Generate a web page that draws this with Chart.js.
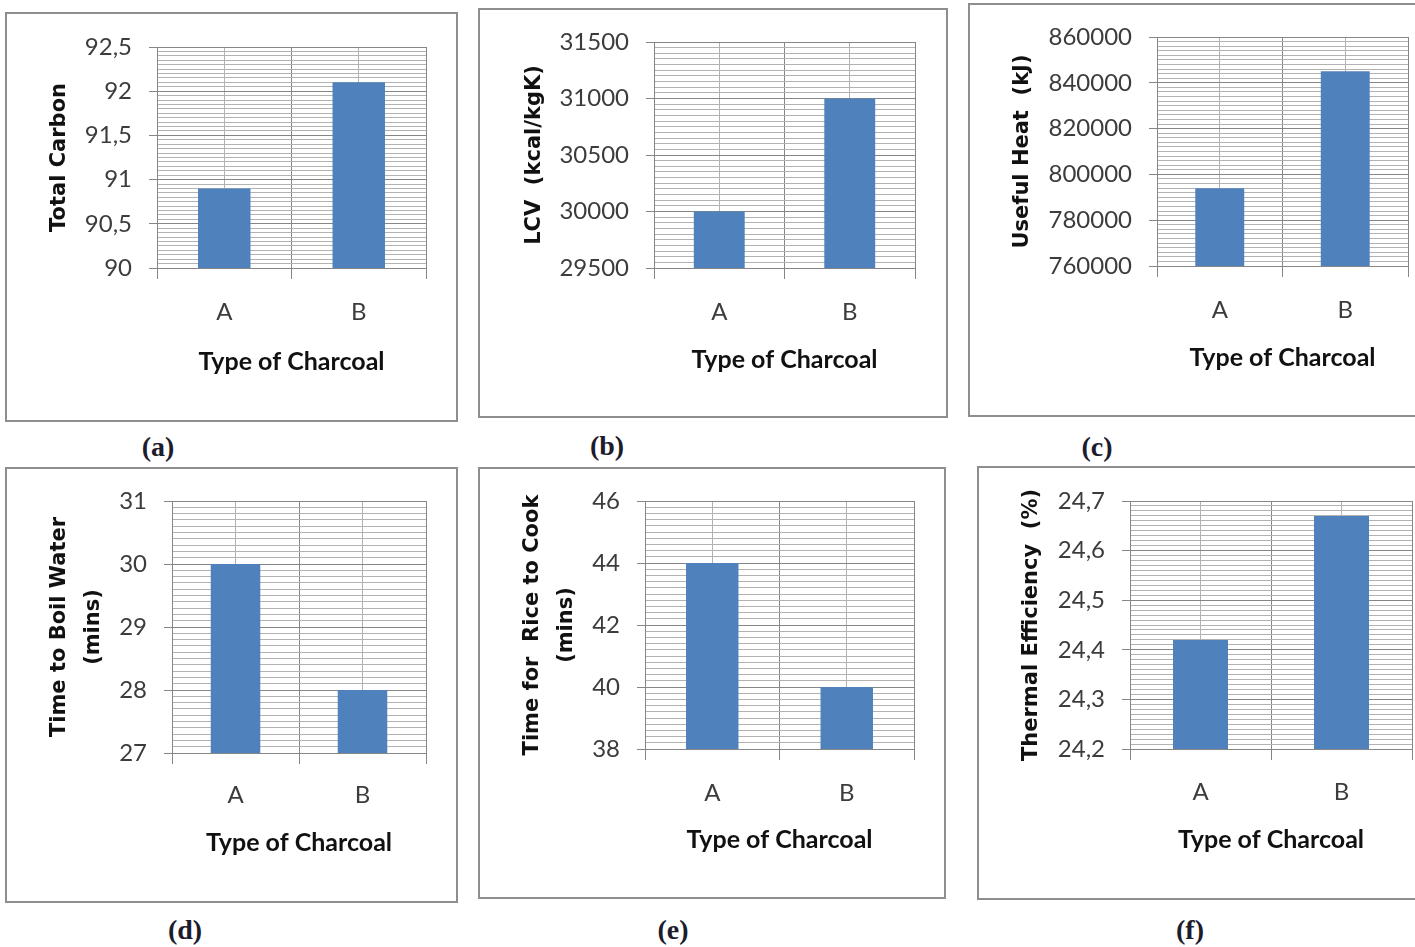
<!DOCTYPE html>
<html>
<head>
<meta charset="utf-8">
<script src="https://cdn.jsdelivr.net/npm/chart.js"></script>
<style>
  body { margin: 0; width: 1415px; height: 947px; overflow: hidden; background: #fff; position: relative; }
  .panel { position: absolute; border: 2px solid #8e8e8e; box-sizing: border-box; background: #fff; }
  .panel canvas { display: block; }
  .cap { position: absolute; transform: translate(-50%, -50%); font: bold 28px "Liberation Serif", serif; color: #1c1c2c; }
</style>
</head>
<body>
<script>
const categories = ['A', 'B'];
const totalCarbon = [90.9, 92.1];
const lcv = [30000, 31000];
const usefulHeat = [794000, 845000];
const boilTime = [30, 28];
const riceTime = [44, 40];
const thermalEff = [24.42, 24.67];

// y axis [min, max, major step]
const totalCarbonAxis = [90, 92.5, 0.5];
const lcvAxis = [29500, 31500, 500];
const usefulHeatAxis = [760000, 860000, 20000];
const boilTimeAxis = [27, 31, 1];
const riceTimeAxis = [38, 46, 2];
const thermalEffAxis = [24.2, 24.7, 0.1];

const xTitle = 'Type of Charcoal';

const barColor = '#4f81bd';
const majorColor = '#868686';
const minorColor = '#b2b2b2';
const tickFont = { family: 'Lato', size: 24 };
const xTitleFont = { family: 'Lato', size: 25, weight: 'bold', lineHeight: 1.2 };
const yTitleFont = { family: '"DejaVu Sans", Verdana, sans-serif', size: 21, weight: 'bold', lineHeight: 1.6 };

// page positions: box [x, y, w, h], plot [left, top, right, bottom]
const panels = [
    { cap: '(a)', data: totalCarbon, axis: totalCarbonAxis, yTitle: 'Total Carbon',
      box: [5, 12, 453, 410], plot: [157, 47, 426, 268], yTitleX: 60, xLabelY: 312, xTitleY: 362, capPos: [158, 447] },
    { cap: '(b)', data: lcv, axis: lcvAxis, yTitle: 'LCV  (kcal/kgK)',
      box: [478, 8, 470, 410], plot: [654, 42, 915, 268], yTitleX: 535, xLabelY: 312, xTitleY: 360, capPos: [607, 446] },
    { cap: '(c)', data: usefulHeat, axis: usefulHeatAxis, yTitle: 'Useful Heat  (kJ)',
      box: [968, 3, 470, 414], plot: [1157, 37, 1408, 266], yTitleX: 1023, xLabelY: 310, xTitleY: 358, capPos: [1097, 447] },
    { cap: '(d)', data: boilTime, axis: boilTimeAxis, yTitle: ['Time to Boil Water', '(mins)'],
      box: [5, 467, 453, 436], plot: [172, 501, 426, 753], yTitleX: 60, xLabelY: 795, xTitleY: 843, capPos: [185, 930] },
    { cap: '(e)', data: riceTime, axis: riceTimeAxis, yTitle: ['Time for  Rice to Cook', '(mins)'],
      box: [478, 467, 468, 432], plot: [645, 501, 914, 749], yTitleX: 533, xLabelY: 793, xTitleY: 840, capPos: [673, 930] },
    { cap: '(f)', data: thermalEff, axis: thermalEffAxis, yTitle: 'Thermal Efficiency  (%)',
      box: [977, 466, 460, 434], plot: [1130, 501, 1412, 749], yTitleX: 1032, xLabelY: 792, xTitleY: 840, capPos: [1190, 930] }
];

const makePanel = (p) => {
    const [bx, by, bw, bh] = p.box;
    const [pl, pt, pr, pb] = p.plot;
    const cw = bw - 4, ch = bh - 4;
    const ox = bx + 2, oy = by + 2;

    const div = document.createElement('div');
    div.className = 'panel';
    div.style.cssText = `left:${bx}px;top:${by}px;width:${bw}px;height:${bh}px`;
    const canvas = document.createElement('canvas');
    canvas.width = cw;
    canvas.height = ch;
    div.appendChild(canvas);
    document.body.appendChild(div);

    const cap = document.createElement('div');
    cap.className = 'cap';
    cap.textContent = p.cap;
    cap.style.left = p.capPos[0] + 'px';
    cap.style.top = p.capPos[1] + 'px';
    document.body.appendChild(cap);

    const [min, max, step] = p.axis;
    const isMajor = v => Math.abs(v / step - Math.round(v / step)) < 1e-6;
    const xTickLen = 11;
    const yLine = yTitleFont.size * yTitleFont.lineHeight;
    const xtLine = xTitleFont.size * xTitleFont.lineHeight;

    new Chart(canvas, {
        type: 'bar',
        data: {
            labels: categories,
            datasets: [{
                data: p.data,
                backgroundColor: barColor,
                barPercentage: 0.39,
                categoryPercentage: 1,
                xAxisID: 'x',
                yAxisID: 'y'
            }]
        },
        options: {
            responsive: false,
            animation: false,
            layout: { padding: { top: pt - oy, right: ox + cw - pr, left: 0, bottom: 0 } },
            plugins: { legend: { display: false }, tooltip: { enabled: false } },
            scales: {
                x: {
                    type: 'category',
                    position: 'bottom',
                    offset: true,
                    grid: { offset: true, color: majorColor, tickColor: majorColor, tickLength: xTickLen, z: -1 },
                    border: { color: majorColor },
                    ticks: { font: tickFont, color: '#3c3c3c', padding: p.xLabelY - pb - xTickLen - tickFont.size * 0.6 },
                    title: {
                        display: true, text: xTitle, font: xTitleFont, color: '#111',
                        padding: { top: 0, bottom: oy + ch - p.xTitleY - xtLine / 2 }
                    },
                    afterFit: s => { s.height = oy + ch - pb; }
                },
                xc: {
                    type: 'category',
                    position: 'bottom',
                    offset: true,
                    grid: { offset: false, color: minorColor, drawTicks: false, z: -2 },
                    border: { display: false },
                    ticks: { display: false },
                    afterFit: s => { s.height = 0; }
                },
                y: {
                    type: 'linear',
                    min: min,
                    max: max,
                    beginAtZero: false,
                    ticks: {
                        stepSize: step / 10,
                        autoSkip: false,
                        font: tickFont,
                        color: '#3c3c3c',
                        padding: 17,
                        callback: v => isMajor(v) ? String(v).replace('.', ',') : ''
                    },
                    grid: {
                        color: ctx => isMajor(ctx.tick.value) ? majorColor : minorColor,
                        tickColor: ctx => isMajor(ctx.tick.value) ? majorColor : 'rgba(0,0,0,0)',
                        tickLength: 8,
                        z: -1
                    },
                    border: { color: majorColor },
                    title: {
                        display: true, text: p.yTitle, font: yTitleFont, color: '#111',
                        padding: { top: p.yTitleX - ox - yLine / 2, bottom: 0 }
                    },
                    afterFit: s => { s.width = pl - ox; }
                }
            }
        }
    });
};

Promise.all([
    document.fonts.load('24px Lato'),
    document.fonts.load('bold 25px Lato'),
    document.fonts.load('bold 21px "DejaVu Sans"'),
    document.fonts.load('bold 28px "Liberation Serif"')
]).catch(() => {}).then(() => panels.forEach(makePanel));
</script>
</body>
</html>
